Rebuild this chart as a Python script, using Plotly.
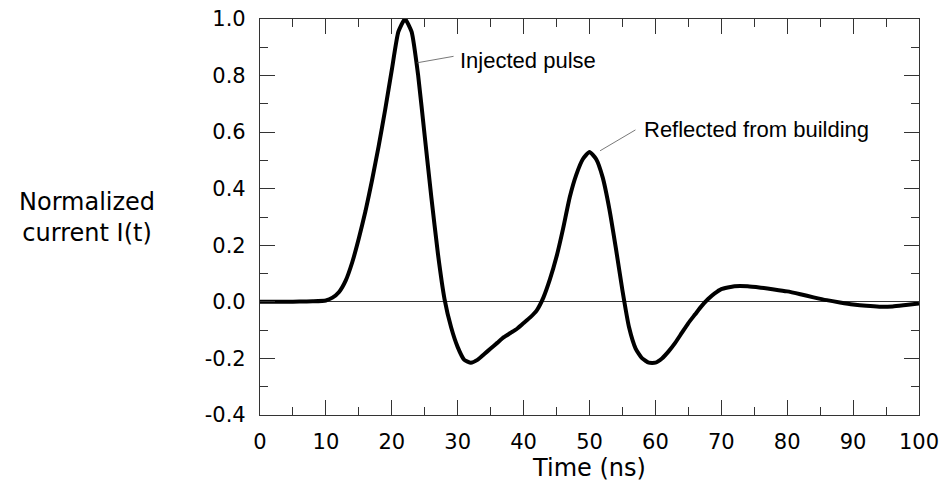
import plotly.graph_objects as go

time_ns = [0, 2, 4, 6, 8, 10, 11, 12, 13, 14, 15, 16, 17, 18, 19, 20, 21, 22, 23, 24, 25, 26, 27, 28, 29, 30,
           31, 32, 33, 34, 35, 36, 37, 38, 39, 40, 41, 42, 43, 44, 45, 46, 47, 48, 49, 50, 51, 52, 53, 54,
           55, 56, 57, 58, 59, 60, 61, 62, 63, 64, 65, 66, 67, 68, 69, 70, 72, 74, 76, 78, 80, 82, 84, 86,
           88, 90, 92, 94, 96, 98, 100]
current = [0.0, 0.0, 0.0, 0.001, 0.002, 0.005, 0.015, 0.035, 0.075, 0.14, 0.225, 0.32, 0.43, 0.55, 0.68, 0.82,
           0.955, 1.0, 0.955, 0.8, 0.585, 0.37, 0.17, 0.01, -0.09, -0.16, -0.205, -0.215, -0.205, -0.185,
           -0.165, -0.145, -0.125, -0.11, -0.095, -0.075, -0.055, -0.03, 0.015, 0.08, 0.16, 0.26, 0.37, 0.45,
           0.505, 0.53, 0.505, 0.44, 0.33, 0.19, 0.04, -0.09, -0.165, -0.2, -0.215, -0.215, -0.2, -0.175,
           -0.145, -0.11, -0.075, -0.045, -0.015, 0.01, 0.03, 0.045, 0.055, 0.055, 0.05, 0.044, 0.037, 0.027,
           0.016, 0.006, -0.002, -0.009, -0.014, -0.017, -0.016, -0.011, -0.006]

x_ticks = [0, 10, 20, 30, 40, 50, 60, 70, 80, 90, 100]
y_ticks = [1.0, 0.8, 0.6, 0.4, 0.2, 0.0, -0.2, -0.4]
y_tick_labels = ["1.0", "0.8", "0.6", "0.4", "0.2", "0.0", "-0.2", "-0.4"]

AX_FONT = "DejaVu Sans, Arial, sans-serif"
ANN_FONT = "Arial, Liberation Sans, sans-serif"
FRAME = "#333333"

fig = go.Figure()
fig.add_trace(go.Scatter(x=time_ns, y=current, mode="lines",
                         line=dict(color="black", width=4, shape="spline", smoothing=0.5),
                         showlegend=False, hoverinfo="skip"))

axis_common = dict(showgrid=False, showline=True, linecolor=FRAME, linewidth=1.2, mirror="ticks",
                   ticks="inside", ticklen=15, tickwidth=1.2, tickcolor=FRAME, automargin=False,
                   tickfont=dict(family=AX_FONT, size=21, color="black"))

fig.update_xaxes(range=[0, 100], tickvals=x_ticks, ticklabelstandoff=8, **axis_common,
                 minor=dict(dtick=5, ticks="inside", ticklen=8, tickwidth=1.2, tickcolor=FRAME),
                 title=dict(text="Time (ns)", standoff=2,
                            font=dict(family=AX_FONT, size=24, color="black")))
fig.update_yaxes(range=[-0.4, 1.0], tickvals=y_ticks, ticktext=y_tick_labels, ticklabelstandoff=9,
                 **axis_common,
                 minor=dict(dtick=0.1, ticks="inside", ticklen=8, tickwidth=1.2, tickcolor=FRAME),
                 zeroline=True, zerolinecolor=FRAME, zerolinewidth=1)

fig.add_annotation(xref="paper", yref="paper", x=-0.2625, y=0.5, xanchor="center", yanchor="middle",
                   text="Normalized<br>current I(t)", showarrow=False, align="center",
                   font=dict(family=AX_FONT, size=24, color="black"))

fig.add_annotation(x=23.8, y=0.845, ax=29.6, ay=0.869, axref="x", ayref="y",
                   text="", showarrow=True, arrowhead=0, arrowwidth=0.8, arrowcolor="#555555")
fig.add_annotation(x=30.0, y=0.855, xanchor="left", yanchor="middle", text="Injected pulse",
                   showarrow=False, font=dict(family=ANN_FONT, size=22, color="black"))

fig.add_annotation(x=51.6, y=0.534, ax=57.2, ay=0.611, axref="x", ayref="y",
                   text="", showarrow=True, arrowhead=0, arrowwidth=0.8, arrowcolor="#555555")
fig.add_annotation(x=57.9, y=0.608, xanchor="left", yanchor="middle", text="Reflected from building",
                   showarrow=False, font=dict(family=ANN_FONT, size=22, color="black"))

fig.update_layout(width=945, height=492, margin=dict(l=260, r=26, t=19, b=77),
                  plot_bgcolor="white", paper_bgcolor="white")

fig.write_html("out.html")
